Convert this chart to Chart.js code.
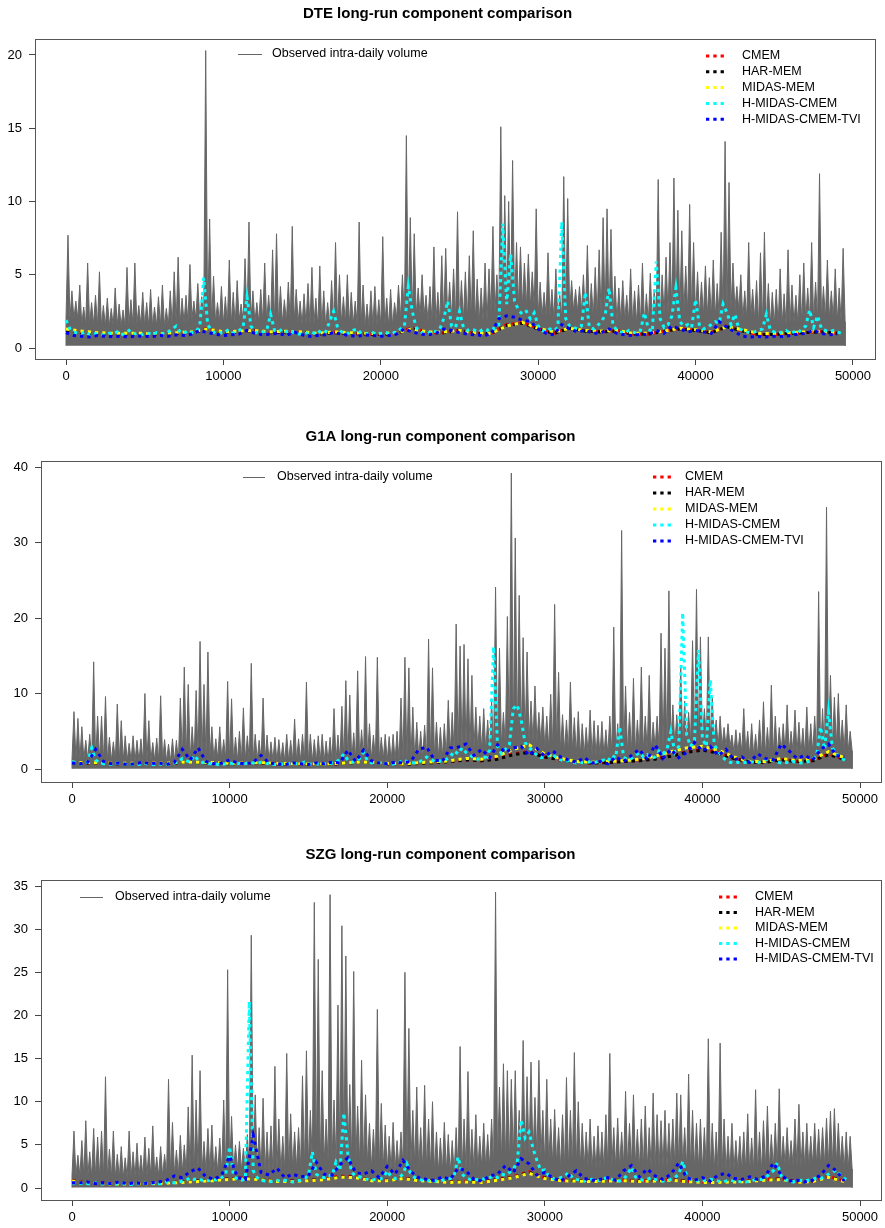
<!DOCTYPE html>
<html lang="en">
<head>
<meta charset="UTF-8">
<title>Long-run component comparison</title>
<script src="https://cdn.jsdelivr.net/npm/chart.js"></script>
<style>
  body { margin: 0; background: #fff; }
  #page { position: relative; width: 885px; height: 1228px; }
  .panel { position: absolute; left: 0; }
</style>
</head>
<body>
<div id="page">
  <canvas id="dte" class="panel" width="885" height="400" style="top:0"></canvas>
  <canvas id="g1a" class="panel" width="885" height="415" style="top:410px"></canvas>
  <canvas id="szg" class="panel" width="885" height="403" style="top:825px"></canvas>
</div>
<script>
// sampling of the stored series (intra-daily index units)
const OBS_BIN = 250;      // one peak per bin for the observed volume
const BODY_STEP = 1000;   // typical level of the dense band
const CYAN_STEP = 250;
const BLUE_STEP = 500;
const SMOOTH_STEP = 1000;

const modelNames = ['CMEM', 'HAR-MEM', 'MIDAS-MEM', 'H-MIDAS-CMEM', 'H-MIDAS-CMEM-TVI'];
const observedLabel = 'Observed intra-daily volume';
const xTickValues = [0, 10000, 20000, 30000, 40000, 50000];
const dteYTicks = [0, 5, 10, 15, 20];
const g1aYTicks = [0, 10, 20, 30, 40];
const szgYTicks = [0, 5, 10, 15, 20, 25, 30, 35];

// ---------- DTE ----------
const dteFloor = 0.15;
const dteBody = [
  2.0, 1.6, 1.5, 1.5, 1.6, 1.5, 1.5, 1.7, 2.0, 1.8,
  1.6, 1.9, 1.8, 1.7, 1.8, 1.6, 1.5, 1.7, 1.6, 1.5,
  1.5, 2.0, 2.2, 1.8, 2.0, 1.9, 1.8, 2.4, 2.9, 2.8,
  2.2, 2.0, 2.5, 2.1, 2.2, 1.9, 1.7, 1.8, 2.3, 2.4,
  2.2, 2.1, 2.6, 2.0, 1.6, 1.6, 1.7, 1.9, 2.0, 1.8
];
const dteObserved = [
  7.7, 3.9, 3.2, 4.3, 2.8, 5.8, 3.1, 3.6, 5.2, 2.9,
  3.4, 2.7, 4.1, 3.0, 2.6, 5.5, 3.3, 5.8, 2.9, 3.8,
  3.1, 4.0, 2.8, 3.5, 4.3, 2.7, 3.9, 5.2, 6.2, 3.4,
  3.6, 5.7, 3.2, 4.4, 3.5, 20.3, 8.8, 4.9, 3.1, 4.2,
  3.5, 6.0, 3.8, 4.6, 3.0, 6.1, 8.6, 3.9, 3.1, 4.0,
  5.8, 3.6, 6.7, 7.8, 4.2, 3.3, 4.5, 8.3, 4.0, 3.2,
  3.7, 4.4, 5.5, 3.4, 5.6, 3.9, 3.1, 4.6, 7.2, 5.0,
  3.5, 5.0, 3.8, 3.2, 8.6, 4.3, 3.0, 3.9, 4.2, 3.3,
  7.6, 3.4, 4.0, 3.1, 4.3, 5.0, 14.5, 8.9, 7.8, 4.1,
  5.0, 3.6, 4.2, 6.9, 3.8, 6.3, 6.8, 4.5, 5.4, 9.3,
  4.6, 5.2, 6.3, 8.0, 4.7, 4.1, 5.8, 5.4, 8.3, 5.0,
  15.1, 10.4, 10.0, 12.8, 7.2, 6.9, 5.8, 6.4, 5.2, 9.5,
  4.5, 3.8, 6.5, 4.0, 5.4, 3.6, 11.7, 10.2, 4.6, 4.0,
  4.2, 5.0, 7.0, 4.4, 5.5, 6.7, 8.9, 9.5, 8.1, 4.9,
  4.1, 4.6, 3.6, 5.4, 3.9, 4.3, 5.8, 3.7, 5.1, 4.0,
  11.5, 5.0, 6.2, 7.2, 11.6, 9.4, 8.0, 5.6, 9.8, 7.2,
  5.2, 4.5, 5.6, 4.8, 6.0, 4.4, 7.9, 14.1, 11.3, 5.8,
  4.2, 5.0, 3.9, 7.2, 4.0, 4.6, 6.5, 7.9, 4.4, 3.8,
  4.0, 5.4, 3.7, 6.7, 4.3, 3.6, 5.0, 5.8, 4.1, 7.2,
  4.5, 11.9, 4.2, 6.0, 3.9, 5.4, 4.1, 6.8
];
const dteCmem = [
  1.3, 1.1, 1.0, 0.95, 0.95, 0.95, 0.92, 1.0, 1.05, 1.35,
  1.05, 1.1, 1.2, 1.05, 1.1, 1.1, 0.95, 1.1, 1.0, 0.95,
  0.92, 1.0, 1.4, 1.05, 1.05, 1.2, 1.0, 0.95, 1.6, 1.75,
  1.3, 1.0, 1.4, 1.15, 1.1, 1.2, 0.95, 0.95, 1.15, 1.35,
  1.2, 1.05, 1.5, 1.15, 0.9, 0.9, 1.0, 1.05, 1.15, 1.0
];
const dteHarMem = [
  1.2, 1.05, 0.98, 0.95, 0.93, 0.95, 0.93, 1.0, 1.05, 1.3,
  1.05, 1.1, 1.2, 1.05, 1.1, 1.05, 0.95, 1.05, 1.0, 0.95,
  0.92, 1.0, 1.35, 1.05, 1.05, 1.2, 1.0, 0.98, 1.55, 1.7,
  1.3, 1.0, 1.35, 1.15, 1.1, 1.15, 0.95, 0.95, 1.15, 1.3,
  1.2, 1.05, 1.45, 1.15, 0.92, 0.92, 1.0, 1.05, 1.1, 1.0
];
const dteMidasMem = [
  1.3, 1.15, 1.05, 1.0, 1.0, 1.0, 0.98, 1.05, 1.1, 1.3,
  1.1, 1.15, 1.2, 1.1, 1.15, 1.1, 1.0, 1.1, 1.05, 1.0,
  0.98, 1.05, 1.3, 1.1, 1.1, 1.2, 1.05, 1.0, 1.5, 1.75,
  1.35, 1.1, 1.35, 1.2, 1.15, 1.2, 1.0, 1.0, 1.15, 1.35,
  1.25, 1.1, 1.45, 1.25, 1.0, 0.98, 1.05, 1.1, 1.15, 1.05
];
const dteHMidasCmem = [
  1.9, 1.3, 1.1, 1.0, 1.0, 1.1, 0.9, 1.0, 0.95, 0.9,
  0.9, 1.0, 0.95, 1.1, 0.9, 1.0, 1.2, 0.95, 1.0, 0.9,
  0.95, 1.0, 0.9, 1.05, 1.0, 0.95, 1.1, 1.3, 1.5, 1.1,
  1.0, 1.2, 1.05, 1.1, 1.5, 4.8, 1.6, 1.2, 1.0, 1.05,
  1.0, 1.2, 1.0, 1.1, 1.2, 1.4, 3.5, 1.5, 1.1, 1.0,
  1.1, 1.2, 2.3, 1.2, 1.1, 1.3, 1.1, 1.2, 1.0, 0.95,
  0.95, 1.0, 1.1, 1.0, 1.2, 1.0, 1.1, 1.8, 2.5, 1.4,
  1.1, 1.0, 1.0, 1.2, 1.3, 1.0, 0.95, 1.0, 1.05, 0.9,
  1.0, 1.1, 0.95, 1.0, 1.1, 1.3, 1.5, 4.2, 2.5, 1.4,
  1.1, 1.0, 1.0, 1.2, 1.1, 1.3, 2.0, 3.2, 1.5, 1.4,
  2.5, 1.4, 1.2, 1.3, 1.2, 1.1, 1.3, 1.2, 1.4, 1.3,
  1.6, 8.5, 3.0, 6.4, 3.2, 2.6, 2.3, 2.5, 2.0, 2.4,
  1.5, 1.2, 1.1, 1.3, 1.2, 1.4, 8.6, 2.0, 1.5, 1.4,
  1.3, 1.5, 3.8, 1.4, 1.3, 1.5, 1.8, 2.2, 4.1, 1.6,
  1.2, 1.1, 1.0, 1.2, 1.1, 1.0, 1.2, 2.4, 1.3, 1.1,
  5.9, 2.0, 1.4, 1.6, 2.2, 4.1, 1.8, 1.5, 1.6, 1.4,
  3.3, 1.5, 1.3, 1.4, 1.6, 1.8, 1.7, 3.0, 2.4, 1.6,
  2.3, 1.3, 1.2, 1.1, 1.0, 1.1, 1.2, 1.3, 2.3, 1.2,
  1.1, 1.0, 1.1, 1.2, 1.0, 1.1, 1.0, 1.3, 1.5, 2.6,
  1.4, 2.2, 1.3, 1.2, 1.1, 1.2, 1.1, 1.0
];
const dteHMidasCmemTvi = [
  1.05, 0.85, 0.8, 0.75, 0.85, 0.8, 0.78, 0.8, 0.75, 0.82,
  0.8, 0.78, 0.85, 0.8, 0.9, 0.85, 0.95, 1.2, 1.05, 0.95,
  0.85, 0.9, 0.95, 1.2, 1.0, 0.9, 0.95, 1.0, 0.85, 1.1,
  0.9, 0.8, 0.85, 0.9, 1.05, 0.95, 0.85, 0.8, 0.9, 0.85,
  0.8, 0.85, 0.95, 1.3, 1.1, 0.95, 0.9, 1.0, 1.3, 1.2,
  1.05, 0.95, 0.9, 0.85, 0.95, 2.0, 2.2, 2.1, 1.9, 1.8,
  1.3, 1.0, 0.9, 1.6, 1.3, 1.1, 1.2, 1.0, 1.05, 1.3,
  1.0, 0.9, 0.85, 0.95, 0.9, 1.2, 1.0, 1.5, 1.3, 1.1,
  1.2, 1.1, 1.0, 1.8, 1.4, 1.1, 0.8, 0.75, 0.78, 0.75,
  0.8, 0.78, 0.85, 0.95, 1.0, 1.2, 1.0, 0.9, 0.95
];

// ---------- G1A ----------
const g1aFloor = 0.05;
const g1aBody = [
  1.3, 1.2, 1.1, 1.1, 1.0, 1.1, 1.0, 1.4, 1.6, 1.3,
  1.1, 1.2, 1.1, 1.0, 1.1, 1.0, 1.0, 1.2, 1.4, 1.3,
  1.1, 1.2, 1.5, 1.6, 2.2, 2.6, 2.5, 3.0, 3.8, 3.6,
  2.8, 2.4, 1.9, 1.8, 2.0, 2.2, 2.4, 2.8, 3.2, 3.6,
  3.8, 3.0, 2.2, 1.8, 1.9, 2.3, 2.0, 2.2, 3.0, 2.4
];
const g1aObserved = [
  7.6, 6.7, 5.6, 3.8, 4.6, 14.2, 7.0, 7.0, 9.6, 4.2,
  3.6, 8.6, 6.4, 4.4, 3.4, 4.4, 3.8, 4.0, 10.0, 6.4,
  3.5, 4.1, 9.7, 3.9, 3.3, 4.0, 3.8, 9.4, 13.5, 11.2,
  5.6, 10.4, 16.9, 11.2, 15.5, 5.6, 4.0, 5.6, 3.9, 11.6,
  9.3, 4.2, 5.0, 8.1, 4.4, 14.0, 4.6, 3.8, 9.4, 4.5,
  3.6, 4.2, 3.9, 3.5, 4.6, 3.8, 6.6, 4.0, 4.6, 11.5,
  4.6, 3.9, 4.4, 4.6, 3.7, 4.2, 8.0, 4.5, 8.3, 11.7,
  9.8, 4.8, 13.0, 5.2, 14.9, 6.0, 4.5, 14.8, 4.2, 4.6,
  4.3, 4.6, 5.0, 9.4, 14.8, 13.4, 8.2, 6.2, 5.0, 5.8,
  17.2, 13.4, 6.2, 5.5, 6.0, 9.1, 7.5, 19.2, 16.3, 16.5,
  14.6, 12.4, 8.2, 7.0, 8.0, 6.5, 9.0, 24.1, 16.0, 7.5,
  20.2, 39.2, 30.6, 23.0, 17.4, 15.5, 9.0, 11.0, 7.5, 8.2,
  7.0, 9.9, 21.8, 12.8, 7.2, 6.5, 11.5, 6.8, 7.6, 6.0,
  5.5, 7.8, 6.4, 5.8, 6.3, 5.2, 7.0, 18.8, 6.0, 31.6,
  11.0, 7.5, 12.0, 6.5, 13.5, 7.0, 12.4, 6.2, 7.0, 18.0,
  16.0, 23.6, 8.5, 7.2, 13.7, 9.0, 7.5, 17.0, 23.8, 17.5,
  8.0, 17.5, 9.5, 6.5, 7.0, 5.5, 6.0, 4.5, 5.2, 4.8,
  8.0, 5.0, 6.0, 4.6, 6.5, 8.9, 5.5, 11.1, 7.0, 5.5,
  6.0, 8.5, 5.0, 7.8, 6.2, 5.4, 8.2, 6.0, 7.0, 23.5,
  8.0, 34.7, 12.4, 9.5, 10.0, 6.5, 8.5, 5.0
];
const g1aCmem = [
  0.9, 0.8, 0.8, 0.7, 0.7, 0.8, 0.7, 0.9, 0.9, 0.8,
  0.7, 0.8, 0.8, 0.7, 0.7, 0.6, 0.6, 0.7, 0.9, 0.9,
  0.7, 0.6, 0.8, 0.9, 1.0, 1.2, 1.1, 1.4, 2.0, 2.3,
  1.6, 1.2, 0.9, 0.8, 0.9, 1.0, 1.1, 1.4, 1.8, 2.3,
  2.6, 2.2, 1.4, 0.9, 0.9, 1.3, 1.0, 1.1, 2.0, 1.3
];
const g1aHarMem = [
  0.85, 0.8, 0.75, 0.7, 0.7, 0.75, 0.7, 0.85, 0.85, 0.8,
  0.7, 0.75, 0.8, 0.7, 0.7, 0.6, 0.6, 0.7, 0.85, 0.85,
  0.7, 0.6, 0.75, 0.85, 1.0, 1.2, 1.1, 1.3, 1.9, 2.2,
  1.6, 1.2, 0.9, 0.8, 0.85, 1.0, 1.1, 1.3, 1.7, 2.2,
  2.5, 2.1, 1.4, 0.9, 0.9, 1.2, 1.0, 1.1, 1.9, 1.3
];
const g1aMidasMem = [
  0.9, 0.85, 0.8, 0.75, 0.75, 0.8, 0.75, 0.9, 0.9, 0.85,
  0.75, 0.8, 0.85, 0.75, 0.7, 0.65, 0.65, 0.75, 0.9, 0.9,
  0.75, 0.65, 0.85, 0.95, 1.1, 1.4, 1.3, 1.7, 2.6, 3.2,
  2.0, 1.4, 1.0, 0.9, 1.0, 1.1, 1.3, 1.7, 2.3, 2.8,
  3.0, 2.5, 1.6, 1.0, 1.0, 1.4, 1.1, 1.3, 2.3, 1.5
];
const g1aHMidasCmem = [
  1.0, 0.8, 0.7, 0.7, 0.9, 2.8, 1.2, 0.8, 0.7, 0.7,
  0.6, 0.7, 0.8, 0.7, 0.6, 0.6, 0.7, 0.6, 0.8, 0.7,
  0.6, 0.6, 0.7, 0.6, 0.6, 0.7, 0.8, 1.0, 1.4, 1.1,
  0.9, 1.8, 1.2, 0.9, 0.8, 0.7, 0.7, 0.6, 0.6, 0.7,
  0.8, 0.7, 0.7, 0.8, 0.7, 0.9, 0.8, 0.7, 0.9, 0.8,
  0.7, 0.6, 0.6, 0.7, 0.6, 0.7, 0.8, 0.7, 0.7, 0.9,
  0.7, 0.6, 0.7, 0.6, 0.7, 0.6, 0.8, 0.9, 1.3, 2.0,
  1.2, 0.9, 1.0, 1.4, 2.2, 1.1, 0.8, 0.9, 0.8, 0.7,
  0.7, 0.6, 0.7, 0.8, 1.2, 1.0, 0.9, 0.8, 0.9, 1.2,
  1.6, 1.3, 1.0, 1.1, 1.0, 1.3, 1.6, 2.4, 2.0, 2.8,
  2.2, 1.8, 1.5, 1.3, 1.4, 1.6, 2.5, 16.2, 3.0, 2.0,
  2.6, 3.2, 8.0, 8.5, 6.5, 3.5, 2.8, 2.4, 1.8, 1.5,
  1.6, 1.8, 2.0, 1.4, 1.2, 1.0, 1.1, 0.9, 0.8, 0.9,
  0.8, 0.9, 1.0, 0.9, 1.1, 1.2, 1.0, 1.8, 1.5, 5.6,
  1.6, 1.2, 1.4, 1.8, 2.2, 1.6, 1.9, 1.4, 1.6, 2.4,
  2.0, 2.6, 5.0, 2.2, 3.0, 20.7, 4.5, 3.0, 3.8, 15.8,
  4.0, 3.0, 11.8, 3.2, 2.4, 1.6, 1.2, 0.9, 0.8, 0.9,
  0.8, 0.9, 1.0, 0.9, 0.8, 1.0, 1.2, 1.4, 1.1, 0.9,
  0.8, 0.9, 0.8, 1.0, 0.9, 0.8, 0.9, 1.0, 1.3, 1.8,
  5.6, 2.6, 7.6, 2.8, 2.0, 1.6, 1.2, 0.9
];
const g1aHMidasCmemTvi = [
  0.8, 0.7, 0.9, 2.6, 1.0, 0.7, 0.8, 0.6, 0.7, 0.9,
  0.7, 0.8, 0.6, 0.9, 2.6, 1.2, 2.8, 1.0, 0.7, 0.8,
  1.2, 0.8, 0.7, 0.9, 1.8, 0.8, 0.7, 0.6, 0.8, 0.7,
  0.6, 0.8, 0.7, 0.9, 0.8, 2.5, 1.0, 2.5, 1.1, 0.8,
  0.7, 0.9, 0.8, 1.0, 2.6, 2.9, 1.2, 1.0, 2.8, 2.9,
  3.3, 1.8, 2.6, 1.5, 3.2, 2.2, 2.8, 3.0, 1.8, 2.7,
  1.7, 2.4, 1.6, 1.2, 0.9, 1.5, 0.8, 1.0, 0.7, 1.6,
  1.0, 1.8, 2.6, 1.2, 3.2, 1.4, 2.6, 1.5, 2.2, 3.5,
  2.4, 3.0, 1.8, 2.6, 1.2, 1.6, 0.9, 2.0, 1.4, 1.2,
  3.3, 2.4, 1.4, 1.8, 1.2, 2.6, 3.3, 1.8, 1.6
];

// ---------- SZG ----------
const szgFloor = 0.05;
const szgBody = [
  1.4, 1.3, 1.2, 1.2, 1.3, 1.4, 1.6, 1.8, 1.9, 1.8,
  2.1, 2.2, 1.9, 2.0, 2.3, 2.8, 3.0, 3.2, 2.8, 2.3,
  2.1, 2.6, 2.2, 1.9, 1.8, 2.1, 2.4, 3.0, 3.4, 3.6,
  2.8, 2.4, 2.5, 2.2, 2.4, 2.6, 2.3, 2.4, 2.6, 2.3,
  2.1, 2.0, 2.1, 2.0, 2.3, 2.6, 2.4, 2.7, 2.8, 2.2
];
const szgObserved = [
  6.6, 3.8, 5.5, 7.8, 4.2, 6.9, 5.9, 6.6, 12.9, 4.5,
  6.6, 3.9, 4.8, 3.5, 6.6, 4.2, 5.2, 3.8, 5.9, 4.6,
  7.2, 3.6, 4.8, 3.9, 12.6, 7.6, 4.4, 6.1, 5.0, 9.4,
  15.4, 10.2, 13.6, 5.4, 6.9, 7.3, 4.8, 5.8, 10.2, 25.3,
  8.3, 5.0, 5.4, 4.6, 6.2, 29.3, 10.8, 7.0, 10.4, 6.5,
  7.2, 14.1, 8.0, 6.0, 15.6, 8.6, 6.5, 7.0, 13.0, 15.9,
  9.0, 33.1, 26.5, 13.6, 8.0, 34.0, 10.2, 21.2, 30.4, 26.9,
  12.0, 25.1, 9.5, 14.8, 10.8, 7.5, 6.8, 20.7, 9.8, 7.3,
  6.0, 7.6, 5.5, 6.5, 25.0, 18.5, 9.0, 11.7, 7.0, 11.9,
  8.0, 10.0, 6.5, 5.8, 7.6, 6.2, 5.5, 7.0, 16.4, 8.0,
  13.5, 6.8, 8.5, 6.0, 7.5, 6.2, 8.0, 34.3, 11.7, 14.4,
  13.6, 12.6, 13.6, 9.0, 17.1, 12.9, 14.6, 10.5, 14.8, 9.0,
  12.6, 8.0, 9.1, 7.0, 8.5, 12.8, 9.0, 15.7, 10.0, 7.5,
  6.5, 8.0, 6.0, 7.2, 6.5, 8.5, 15.6, 7.0, 8.1, 6.5,
  11.2, 7.5, 10.8, 6.8, 8.0, 9.5, 7.0, 11.0, 8.5, 7.8,
  9.0, 7.5, 8.0, 11.0, 10.8, 7.0, 13.2, 9.0, 7.5, 8.0,
  7.0, 17.3, 7.5, 6.5, 16.8, 8.0, 6.0, 7.5, 5.5, 6.0,
  6.5, 8.6, 5.8, 11.4, 6.5, 7.8, 9.5, 6.2, 7.5, 11.5,
  6.0, 7.0, 5.5, 8.0, 9.7, 6.5, 7.5, 6.0, 7.5, 6.8,
  7.0, 8.1, 8.9, 9.2, 7.5, 6.0, 6.5, 6.0
];
const szgCmem = [
  0.9, 0.6, 0.6, 0.5, 0.5, 0.5, 0.6, 0.7, 0.8, 0.9,
  1.1, 1.2, 1.0, 0.8, 0.8, 0.9, 1.0, 1.4, 1.3, 0.9,
  0.9, 1.2, 0.9, 0.8, 0.7, 0.8, 0.7, 1.0, 1.3, 1.9,
  1.2, 0.9, 0.9, 0.8, 0.9, 0.9, 0.8, 0.9, 1.0, 0.8,
  0.7, 0.7, 0.8, 0.8, 1.0, 1.1, 0.7, 0.8, 1.4, 0.8
];
const szgHarMem = [
  0.85, 0.6, 0.55, 0.5, 0.5, 0.5, 0.6, 0.7, 0.8, 0.9,
  1.05, 1.15, 1.0, 0.8, 0.8, 0.9, 1.0, 1.3, 1.25, 0.9,
  0.9, 1.15, 0.9, 0.8, 0.7, 0.75, 0.7, 0.95, 1.25, 1.8,
  1.15, 0.9, 0.85, 0.8, 0.85, 0.9, 0.8, 0.85, 0.95, 0.8,
  0.7, 0.7, 0.75, 0.8, 0.95, 1.05, 0.7, 0.8, 1.3, 0.8
];
const szgMidasMem = [
  0.8, 0.55, 0.5, 0.45, 0.5, 0.5, 0.55, 0.65, 0.75, 0.85,
  1.0, 1.1, 0.95, 0.75, 0.75, 0.85, 0.95, 1.25, 1.2, 0.85,
  0.85, 1.1, 0.85, 0.75, 0.65, 0.7, 0.65, 0.9, 1.2, 1.7,
  1.1, 0.85, 0.8, 0.75, 0.8, 0.85, 0.75, 0.8, 0.9, 0.75,
  0.65, 0.65, 0.7, 0.75, 0.9, 1.0, 0.65, 0.75, 1.25, 0.75
];
const szgHMidasCmem = [
  0.6, 0.5, 0.5, 0.6, 0.5, 0.5, 0.6, 0.5, 0.5, 0.6,
  0.5, 0.5, 0.4, 0.5, 0.5, 0.4, 0.5, 0.5, 0.6, 0.5,
  0.5, 0.6, 0.5, 0.5, 0.7, 0.6, 0.6, 0.7, 0.8, 0.9,
  1.2, 1.0, 1.1, 0.9, 0.8, 0.9, 1.0, 0.9, 1.2, 1.6,
  4.8, 1.4, 1.0, 0.9, 1.0, 21.6, 2.0, 1.2, 0.9, 0.8,
  0.7, 0.8, 0.9, 0.8, 0.9, 0.8, 0.7, 0.8, 0.9, 1.1,
  1.4, 4.2, 1.6, 1.3, 1.2, 1.5, 1.4, 3.0, 2.0, 8.7,
  4.0, 1.8, 1.4, 1.3, 1.1, 1.0, 0.9, 1.0, 1.0, 1.2,
  2.0, 1.3, 1.1, 1.2, 1.6, 2.8, 1.6, 1.2, 1.0, 0.9,
  0.8, 0.9, 0.8, 0.8, 0.9, 1.0, 1.1, 1.4, 3.6, 1.6,
  1.2, 1.0, 0.9, 1.0, 1.1, 1.0, 1.2, 1.4, 1.2, 1.6,
  1.5, 1.8, 2.2, 3.0, 7.9, 5.8, 6.5, 4.6, 3.2, 2.0,
  2.1, 1.4, 1.1, 1.0, 1.2, 1.3, 1.8, 1.2, 1.0, 0.9,
  0.8, 0.9, 1.0, 0.8, 0.9, 1.1, 1.2, 1.0, 0.9, 0.8,
  1.0, 1.6, 2.4, 1.3, 1.0, 0.9, 1.0, 1.2, 1.0, 0.9,
  0.8, 0.9, 1.0, 1.2, 1.6, 3.1, 1.4, 1.0, 0.9, 0.8,
  0.8, 0.9, 1.0, 0.9, 0.8, 0.7, 0.8, 0.9, 0.8, 0.7,
  0.8, 0.7, 0.8, 0.9, 1.0, 1.0, 1.2, 1.6, 2.0, 2.9,
  1.4, 1.0, 0.8, 0.7, 0.8, 0.9, 0.8, 0.9, 1.0, 1.2,
  1.1, 1.3, 1.6, 1.8, 2.1, 1.5, 1.1, 0.9
];
const szgHMidasCmemTvi = [
  0.6, 0.6, 0.7, 0.5, 0.6, 0.5, 0.7, 0.5, 0.6, 0.5,
  0.6, 0.7, 0.9, 1.4, 1.2, 1.9, 2.3, 1.3, 1.0, 1.5,
  3.7, 1.2, 1.0, 6.1, 1.8, 1.5, 2.3, 1.2, 1.6, 1.3,
  1.4, 3.0, 1.6, 1.5, 2.7, 3.5, 1.8, 1.6, 2.0, 1.2,
  2.5, 1.6, 3.2, 1.9, 1.2, 1.0, 0.9, 1.3, 1.0, 2.3,
  2.0, 1.0, 0.8, 1.4, 1.6, 2.6, 1.8, 3.4, 2.8, 1.5,
  1.8, 1.2, 0.8, 1.4, 2.0, 1.1, 0.9, 1.0, 1.2, 0.9,
  2.0, 2.6, 1.3, 2.2, 1.4, 1.0, 1.6, 2.9, 1.2, 0.9,
  1.2, 0.8, 1.5, 1.7, 1.1, 1.0, 1.3, 1.0, 1.4, 2.9,
  1.5, 0.8, 0.9, 0.7, 0.9, 1.5, 2.6, 2.0, 0.8
];

// ---------- drawing ----------
const FONT = 'Arial, "Liberation Sans", Helvetica, sans-serif';
const OBS_COLOR = '#666666';
const modelColors = ['#ff0000', '#000000', '#ffff00', '#00ffff', '#0000ff'];
const DOTS = [3.3, 4];

Chart.defaults.font.family = FONT;
Chart.defaults.color = '#000';

// observed volume: band level at each bin edge, the bin's peak in the middle
function observedPoints(peaks, body, floor) {
  const pts = [{ x: 0, y: floor }];
  peaks.forEach((p, i) => {
    const level = body[Math.floor(i * OBS_BIN / BODY_STEP)];
    pts.push({ x: i * OBS_BIN, y: level });
    pts.push({ x: i * OBS_BIN + OBS_BIN / 2, y: p });
  });
  const end = peaks.length * OBS_BIN;
  pts.push({ x: end, y: body[body.length - 1] });
  pts.push({ x: end, y: floor });
  return pts;
}

function gridPoints(values, step) {
  return values.map((v, i) => ({ x: i * step, y: v }));
}

// R-style legends drawn inside the plot region
const legendsPlugin = {
  id: 'panelLegends',
  afterDraw(chart, args, o) {
    const ctx = chart.ctx;
    ctx.save();
    ctx.font = '12.5px ' + FONT;
    ctx.textBaseline = 'middle';
    ctx.fillStyle = '#000';

    ctx.strokeStyle = OBS_COLOR;
    ctx.lineWidth = 1;
    ctx.beginPath();
    ctx.moveTo(o.obs.x, o.obs.y + 0.5);
    ctx.lineTo(o.obs.x + o.obs.len, o.obs.y + 0.5);
    ctx.stroke();
    ctx.fillText(observedLabel, o.obs.textX, o.obs.y);

    modelNames.forEach((name, k) => {
      const y = o.mod.y + k * o.mod.gap;
      ctx.strokeStyle = modelColors[k];
      ctx.lineWidth = 3;
      ctx.setLineDash(DOTS);
      ctx.beginPath();
      ctx.moveTo(o.mod.x, y);
      ctx.lineTo(o.mod.x + o.mod.len, y);
      ctx.stroke();
      ctx.setLineDash([]);
      ctx.fillText(name, o.mod.textX, y);
    });
    ctx.restore();
  }
};

// box around the plot region
const boxPlugin = {
  id: 'plotBox',
  afterDatasetsDraw(chart) {
    const a = chart.chartArea;
    const ctx = chart.ctx;
    ctx.save();
    ctx.strokeStyle = '#555';
    ctx.lineWidth = 1;
    ctx.strokeRect(Math.round(a.left) + 0.5, Math.round(a.top) + 0.5,
      Math.round(a.right - a.left), Math.round(a.bottom - a.top));
    ctx.restore();
  }
};

function drawPanel(p) {
  const series = [p.cmem, p.har, p.midas, p.hmidas, p.tvi];
  const steps = [SMOOTH_STEP, SMOOTH_STEP, SMOOTH_STEP, CYAN_STEP, BLUE_STEP];
  const datasets = [{
    label: observedLabel,
    data: observedPoints(p.observed, p.body, p.floor),
    borderColor: OBS_COLOR,
    backgroundColor: OBS_COLOR,
    borderWidth: 1,
    fill: { value: p.floor },
    order: 6
  }];
  series.forEach((vals, k) => {
    datasets.push({
      label: modelNames[k],
      data: gridPoints(vals, steps[k]),
      borderColor: modelColors[k],
      borderWidth: 3,
      borderDash: DOTS,
      borderCapStyle: 'butt',
      fill: false,
      order: 5 - k
    });
  });

  const axisGrid = { display: true, drawOnChartArea: false, drawTicks: true, tickLength: 6, color: '#444', lineWidth: 1 };

  new Chart(document.getElementById(p.id), {
    type: 'line',
    data: { datasets },
    options: {
      responsive: false,
      animation: false,
      events: [],
      devicePixelRatio: 1,
      elements: { point: { radius: 0 }, line: { tension: 0 } },
      layout: { padding: { left: 0, right: p.padRight, top: 0, bottom: 0 } },
      plugins: {
        legend: { display: false },
        tooltip: { enabled: false },
        title: {
          display: true,
          text: p.title,
          color: '#000',
          font: { size: 15, weight: 'bold', family: FONT },
          padding: p.titlePad
        },
        panelLegends: p.legend
      },
      scales: {
        x: {
          type: 'linear',
          min: p.xMin, max: p.xMax,
          afterBuildTicks: s => { s.ticks = xTickValues.map(v => ({ value: v })); },
          afterFit: s => { s.height = p.xAxisHeight; },
          grid: axisGrid,
          border: { display: false },
          ticks: { font: { size: 13 }, color: '#000', padding: 4, maxRotation: 0, autoSkip: false, callback: v => String(v) }
        },
        y: {
          type: 'linear',
          min: p.yMin, max: p.yMax,
          afterBuildTicks: s => { s.ticks = p.yTicks.map(v => ({ value: v })); },
          afterFit: s => { s.width = p.yAxisWidth; },
          grid: axisGrid,
          border: { display: false },
          ticks: { font: { size: 13 }, color: '#000', padding: 7, autoSkip: false, callback: v => String(v) }
        }
      }
    },
    plugins: [boxPlugin, legendsPlugin]
  });
}

drawPanel({
  id: 'dte', title: 'DTE long-run component comparison',
  observed: dteObserved, body: dteBody, floor: dteFloor,
  cmem: dteCmem, har: dteHarMem, midas: dteMidasMem, hmidas: dteHMidasCmem, tvi: dteHMidasCmemTvi,
  xMin: -1970, xMax: 51400, yMin: -0.75, yMax: 21.09, yTicks: dteYTicks,
  yAxisWidth: 35, xAxisHeight: 41, padRight: 10, titlePad: { top: 5, bottom: 16 },
  legend: {
    obs: { x: 238, y: 54, len: 24, textX: 272 },
    mod: { x: 706, y: 56, gap: 15.8, len: 21, textX: 742 }
  }
});

drawPanel({
  id: 'g1a', title: 'G1A long-run component comparison',
  observed: g1aObserved, body: g1aBody, floor: g1aFloor,
  cmem: g1aCmem, har: g1aHarMem, midas: g1aMidasMem, hmidas: g1aHMidasCmem, tvi: g1aHMidasCmemTvi,
  xMin: -1967, xMax: 51332, yMin: -1.72, yMax: 40.8, yTicks: g1aYTicks,
  yAxisWidth: 41, xAxisHeight: 43, padRight: 4, titlePad: { top: 18, bottom: 15 },
  legend: {
    obs: { x: 243, y: 67, len: 22, textX: 277 },
    mod: { x: 653, y: 67, gap: 16, len: 20, textX: 685 }
  }
});

drawPanel({
  id: 'szg', title: 'SZG long-run component comparison',
  observed: szgObserved, body: szgBody, floor: szgFloor,
  cmem: szgCmem, har: szgHarMem, midas: szgMidasMem, hmidas: szgHMidasCmem, tvi: szgHMidasCmemTvi,
  xMin: -1967, xMax: 51332, yMin: -1.39, yMax: 35.7, yTicks: szgYTicks,
  yAxisWidth: 41, xAxisHeight: 28, padRight: 4, titlePad: { top: 21, bottom: 16 },
  legend: {
    obs: { x: 80, y: 72, len: 23, textX: 115 },
    mod: { x: 719, y: 72, gap: 15.5, len: 20, textX: 755 }
  }
});
</script>
</body>
</html>
